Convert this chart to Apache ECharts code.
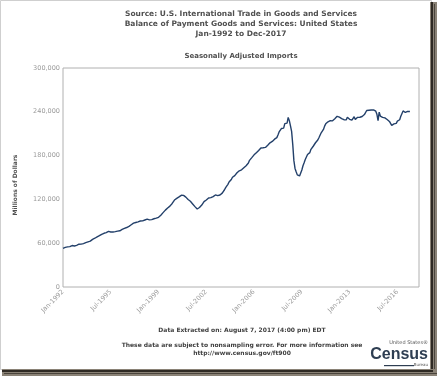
<!DOCTYPE html>
<html>
<head>
<meta charset="utf-8">
<script src="https://cdn.jsdelivr.net/npm/echarts@6/dist/echarts.min.js"></script>
<style>
html,body{margin:0;padding:0;background:#fff;}
#chart{width:439px;height:378px;}
</style>
</head>
<body>
<div id="chart"></div>
<script>
// Seasonally adjusted imports, millions of dollars, monthly
var imports1992 = [53000, 53600, 54300, 54100, 55000, 55600, 55300, 56200, 56800, 56500, 56200, 57400];
var imports1993 = [57100, 57900, 58600, 59100, 58700, 59800, 59500, 60300, 60800, 61600, 61900, 62400];
var imports1994 = [62900, 64100, 65200, 66000, 66800, 67900, 68600, 69500, 70300, 71000, 72200, 72900];
var imports1995 = [73600, 74800, 74500, 75600, 76200, 76400, 75300, 75800, 75400, 76100, 75800, 76700];
var imports1996 = [76500, 77200, 77000, 78100, 78900, 79600, 80300, 81200, 81500, 82300, 83100, 84200];
var imports1997 = [85300, 86600, 87400, 87900, 88400, 88800, 89300, 89900, 90400, 91000, 90600, 91500];
var imports1998 = [91800, 92300, 92900, 92200, 92000, 92600, 92300, 93000, 93500, 94100, 94300, 94800];
var imports1999 = [95500, 96600, 98400, 99800, 101900, 103600, 105300, 106400, 108200, 109600, 110800, 113200];
var imports2000 = [114400, 116900, 119100, 119600, 121400, 122800, 123400, 124900, 125600, 126200, 125500, 124400];
var imports2001 = [123100, 121200, 119800, 118500, 117400, 115900, 113800, 112600, 110100, 107900, 106800, 106200];
var imports2002 = [108900, 110600, 112300, 114800, 116900, 118400, 119200, 120800, 121900, 123100, 122400, 124600];
var imports2003 = [123800, 124900, 126100, 124300, 125200, 126400, 126000, 127100, 128600, 130800, 133200, 136100];
var imports2004 = [138400, 140600, 143800, 145100, 147200, 150300, 150900, 152600, 153800, 156500, 158100, 159200];
var imports2005 = [158700, 160500, 161800, 163400, 164100, 166200, 167900, 169800, 173500, 175900, 177200, 179600];
var imports2006 = [181000, 182000, 184000, 185500, 187000, 189000, 190500, 192500, 190800, 190100, 191200, 193600];
var imports2007 = [194200, 195100, 197500, 197300, 199400, 200800, 202500, 203100, 204600, 208300, 212400, 214200];
var imports2008 = [217100, 219300, 217600, 223800, 226200, 224500, 232300, 227900, 220800, 213200, 195400, 173100];
var imports2009 = [162400, 157800, 153600, 152400, 152100, 153900, 160300, 166100, 170200, 174600, 177300, 181500];
var imports2010 = [182800, 184100, 188600, 190200, 192800, 195400, 197600, 199200, 201300, 204500, 207900, 211200];
var imports2011 = [213600, 215800, 220400, 223500, 225100, 226300, 226900, 227800, 228500, 227600, 229300, 230400];
var imports2012 = [229400, 233800, 235500, 232600, 233100, 230700, 231400, 229200, 231800, 228900, 232600, 230900];
var imports2013 = [229700, 232100, 228600, 230800, 233200, 229400, 231000, 232400, 233700, 232500, 231900, 233600];
var imports2014 = [234800, 236200, 238100, 241800, 242600, 242100, 241300, 242400, 241900, 242700, 241600, 240800];
var imports2015 = [236500, 227800, 239600, 234200, 233100, 232400, 232900, 231600, 230800, 229400, 228600, 226800];
var imports2016 = [224900, 221300, 219700, 223400, 224600, 224200, 227300, 228400, 229100, 233800, 236400, 241200];
var imports2017 = [240900, 239100, 239800, 240600, 240100, 240400];

var monthNames = ['Jan','Feb','Mar','Apr','May','Jun','Jul','Aug','Sep','Oct','Nov','Dec'];
var firstYear = 1992;
var lastYear = 2018, lastMonth = 2; // axis end
var yTicks = [0, 60000, 120000, 180000, 240000, 300000];

var categories = [];
for (var y = firstYear; y <= lastYear; y++) {
  for (var m = 0; m < 12; m++) {
    if (y === lastYear && m >= lastMonth) break;
    categories.push(monthNames[m] + '-' + y);
  }
}
var series = [].concat(imports1992, imports1993, imports1994, imports1995, imports1996,
  imports1997, imports1998, imports1999, imports2000, imports2001, imports2002, imports2003,
  imports2004, imports2005, imports2006, imports2007, imports2008, imports2009, imports2010,
  imports2011, imports2012, imports2013, imports2014, imports2015, imports2016, imports2017);

function fmt(v){ return String(v).replace(/\B(?=(\d{3})+(?!\d))/g, ','); }

var FONT = 'DejaVu Sans';
var chart = echarts.init(document.getElementById('chart'), null, {renderer:'canvas'});
chart.setOption({
  animation: false,
  backgroundColor: '#fff',
  grid: { left: 63, right: 20, top: 68, bottom: 91, show: true, borderColor: '#b0b0b0', borderWidth: 1, containLabel: false },
  xAxis: {
    type: 'category', data: categories, boundaryGap: false,
    axisLine: { show: false }, axisTick: { show: false }, splitLine: { show: false },
    axisLabel: { interval: 41, rotate: 45, fontSize: 6.5, color: '#9a9a9a', fontFamily: FONT, margin: 4 }
  },
  yAxis: {
    type: 'value', min: yTicks[0], max: yTicks[yTicks.length-1], interval: yTicks[1]-yTicks[0],
    axisLine: { show: false }, axisTick: { show: false }, splitLine: { show: false },
    axisLabel: { fontSize: 6.5, color: '#9a9a9a', fontFamily: FONT, margin: 3, formatter: fmt }
  },
  series: [{
    type: 'line', data: series, showSymbol: false, symbol: 'none',
    lineStyle: { color: '#23406a', width: 1.4 }
  }],
  graphic: [
    { type: 'rect', shape: { x: 0.5, y: 0.5, width: 431, height: 369 }, style: { fill: 'none', stroke: '#cfcfcf', lineWidth: 1 }, silent: true },
    { type: 'rect', shape: { x: 430, y: 2, width: 7, height: 374 }, style: { fill: '#8a8276' }, silent: true },
    { type: 'rect', shape: { x: 431, y: 2, width: 2, height: 372 }, style: { fill: '#2f2a24' }, silent: true },
    { type: 'rect', shape: { x: 434, y: 4, width: 1, height: 372 }, style: { fill: '#4a443c' }, silent: true },
    { type: 'rect', shape: { x: 2, y: 369, width: 435, height: 7 }, style: { fill: '#8a8276' }, silent: true },
    { type: 'rect', shape: { x: 2, y: 370, width: 431, height: 2 }, style: { fill: '#2f2a24' }, silent: true },
    { type: 'rect', shape: { x: 4, y: 373, width: 433, height: 1 }, style: { fill: '#4a443c' }, silent: true },

    { type: 'text', x: 241, y: 10, style: { text: 'Source: U.S. International Trade in Goods and Services', font: 'bold 7.5px ' + FONT, fill: '#505050', textAlign: 'center' } },
    { type: 'text', x: 241, y: 20, style: { text: 'Balance of Payment Goods and Services: United States', font: 'bold 7.5px ' + FONT, fill: '#505050', textAlign: 'center' } },
    { type: 'text', x: 241, y: 30, style: { text: 'Jan-1992 to Dec-2017', font: 'bold 7.5px ' + FONT, fill: '#505050', textAlign: 'center' } },
    { type: 'text', x: 241, y: 53, style: { text: 'Seasonally Adjusted Imports', font: 'bold 7px ' + FONT, fill: '#505050', textAlign: 'center' } },
    { type: 'text', x: 15, y: 185, rotation: Math.PI/2, style: { text: 'Millions of Dollars', font: 'bold 6px ' + FONT, fill: '#505050', textAlign: 'center', textVerticalAlign: 'middle' } },
    { type: 'text', x: 242, y: 327, style: { text: 'Data Extracted on: August 7, 2017 (4:00 pm) EDT', font: 'bold 6px ' + FONT, fill: '#404040', textAlign: 'center' } },
    { type: 'text', x: 242, y: 342, style: { text: 'These data are subject to nonsampling error. For more information see', font: 'bold 6px ' + FONT, fill: '#404040', textAlign: 'center' } },
    { type: 'text', x: 242, y: 350, style: { text: 'http://www.census.gov/ft900', font: 'bold 6px ' + FONT, fill: '#404040', textAlign: 'center' } },

    { type: 'text', x: 428, y: 340, style: { text: 'United States\u00ae', font: '5px ' + FONT, fill: '#555', textAlign: 'right' } },
    { type: 'text', x: 428, y: 347, style: { text: 'Census', font: 'bold 16px "Liberation Sans Narrow", "Liberation Sans", sans-serif', fill: '#2e3e52', textAlign: 'right' } },
    { type: 'rect', shape: { x: 384, y: 365, width: 30, height: 1.2 }, style: { fill: '#2e3e52' }, silent: true },
    { type: 'text', x: 428, y: 363, style: { text: 'Bureau', font: '4px ' + FONT, fill: '#555', textAlign: 'right' } }
  ]
});
</script>
</body>
</html>
